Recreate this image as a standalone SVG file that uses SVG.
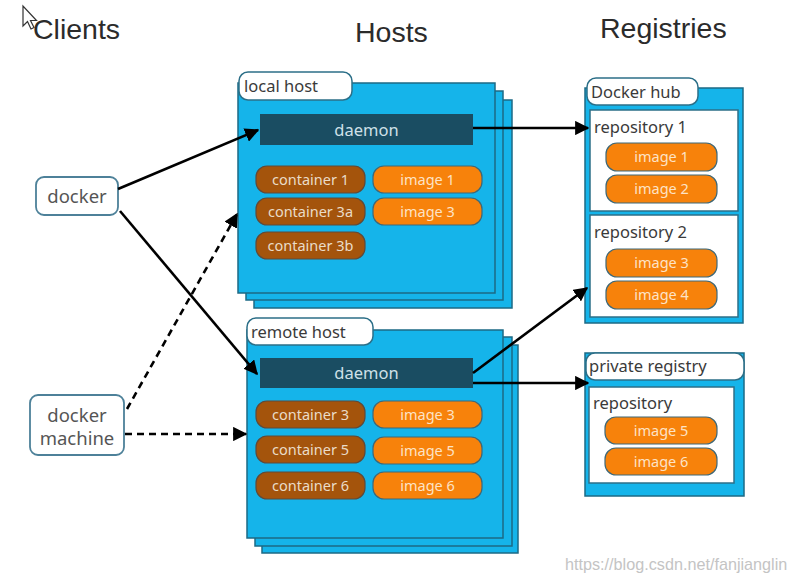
<svg xmlns="http://www.w3.org/2000/svg" width="798" height="582" viewBox="0 0 798 582">
<defs>
<style>
.hdr{font-family:"Liberation Sans",Arial,sans-serif;font-size:28.5px;fill:#2b2b2b}
.card{fill:#15b4ea;stroke:#1d6a85;stroke-width:1.5}
.tab{fill:#fff;stroke:#2c6f88;stroke-width:1.5}
.lbl{font-family:"Noto Sans",Lato,sans-serif;font-size:16.5px;fill:#3a3a3a}
.dmn{fill:#1a4d62}
.dtx{font-family:"Noto Sans",Lato,sans-serif;font-size:16.5px;fill:#cfe0e8;text-anchor:middle}
.ctr{fill:#a4540c;stroke:#5f4a3a;stroke-width:1.2}
.img{fill:#f7820b;stroke:#3e6878;stroke-width:1.2}
.ptx{font-family:"Noto Sans",Lato,sans-serif;font-size:14.5px;text-anchor:middle}
.ctx{fill:#eadcc8}
.itx{fill:#fde3c6}
.repo{fill:#fff;stroke:#2c6f88;stroke-width:1.5}
.cli{fill:#fff;stroke:#4d8199;stroke-width:1.8}
.ctxt{font-family:"Noto Sans",Lato,sans-serif;font-size:18.5px;fill:#555;text-anchor:middle}
.ln{stroke:#000;stroke-width:2.6;fill:none}
.dash{stroke-dasharray:7 5}
</style>
<marker id="ah" viewBox="0 0 10 10" refX="9" refY="5" markerWidth="5.5" markerHeight="5.5" orient="auto" markerUnits="strokeWidth">
<path d="M0,0 L10,5 L0,10 z" fill="#000"/>
</marker>
</defs>
<rect width="798" height="582" fill="#fff"/>

<path d="M23,6 L23,26 L27.5,21.5 L31,29 L34,27.5 L30.5,20.5 L36.5,20.5 Z" fill="#fff" stroke="#333" stroke-width="1.2"/>

<text class="hdr" x="33" y="39">Clients</text>
<text class="hdr" x="355" y="42">Hosts</text>
<text class="hdr" x="600" y="38">Registries</text>

<g id="local-host">
<rect class="card" x="254" y="100" width="258" height="208"/>
<rect class="card" x="246" y="91" width="257" height="209"/>
<rect class="card" x="238" y="83" width="257" height="210"/>
<rect class="tab" x="239" y="72" width="113" height="28" rx="9"/>
<text class="lbl" x="244" y="92">local host</text>
<rect class="dmn" x="260" y="114" width="213" height="31"/>
<text class="dtx" x="366.5" y="136">daemon</text>
<rect class="ctr" x="256" y="166" width="109" height="27" rx="11"/>
<text class="ptx ctx" x="310.5" y="185">container 1</text>
<rect class="ctr" x="256" y="198" width="109" height="27" rx="11"/>
<text class="ptx ctx" x="310.5" y="217">container 3a</text>
<rect class="ctr" x="256" y="232" width="109" height="27" rx="11"/>
<text class="ptx ctx" x="310.5" y="251">container 3b</text>
<rect class="img" x="373" y="166" width="109" height="27" rx="11"/>
<text class="ptx itx" x="427.5" y="185">image 1</text>
<rect class="img" x="373" y="198" width="109" height="27" rx="11"/>
<text class="ptx itx" x="427.5" y="217">image 3</text>
</g>

<g id="remote-host">
<rect class="card" x="262" y="345" width="256" height="208"/>
<rect class="card" x="255" y="337" width="257" height="209"/>
<rect class="card" x="247" y="330" width="256" height="208"/>
<rect class="tab" x="247" y="318" width="126" height="27" rx="9"/>
<text class="lbl" x="251" y="338">remote host</text>
<rect class="dmn" x="260" y="358" width="213" height="30"/>
<text class="dtx" x="366.5" y="379">daemon</text>
<rect class="ctr" x="256" y="401" width="109" height="27" rx="11"/>
<text class="ptx ctx" x="310.5" y="420">container 3</text>
<rect class="ctr" x="256" y="436" width="109" height="27" rx="11"/>
<text class="ptx ctx" x="310.5" y="455">container 5</text>
<rect class="ctr" x="256" y="472" width="109" height="27" rx="11"/>
<text class="ptx ctx" x="310.5" y="491">container 6</text>
<rect class="img" x="373" y="401" width="109" height="27" rx="11"/>
<text class="ptx itx" x="427.5" y="420">image 3</text>
<rect class="img" x="373" y="437" width="109" height="27" rx="11"/>
<text class="ptx itx" x="427.5" y="456">image 5</text>
<rect class="img" x="373" y="472" width="109" height="27" rx="11"/>
<text class="ptx itx" x="427.5" y="491">image 6</text>
</g>

<g id="docker-hub">
<rect class="card" x="585" y="88" width="158" height="235"/>
<rect class="tab" x="587" y="78" width="111" height="27" rx="9"/>
<text class="lbl" x="591" y="98">Docker hub</text>
<rect class="repo" x="590" y="110" width="148" height="101"/>
<text class="lbl" x="594" y="133">repository 1</text>
<rect class="img" x="606" y="143" width="111" height="28" rx="11"/>
<text class="ptx itx" x="661.5" y="162">image 1</text>
<rect class="img" x="606" y="175" width="111" height="28" rx="11"/>
<text class="ptx itx" x="661.5" y="194">image 2</text>
<rect class="repo" x="590" y="215" width="148" height="102"/>
<text class="lbl" x="594" y="238">repository 2</text>
<rect class="img" x="606" y="249" width="111" height="28" rx="11"/>
<text class="ptx itx" x="661.5" y="268">image 3</text>
<rect class="img" x="606" y="281" width="111" height="28" rx="11"/>
<text class="ptx itx" x="661.5" y="300">image 4</text>
</g>

<g id="private-registry">
<rect class="card" x="585" y="353" width="159" height="143"/>
<rect class="tab" x="586" y="353" width="158" height="27" rx="9"/>
<text class="lbl" x="589" y="372">private registry</text>
<rect class="repo" x="589" y="387" width="145" height="96"/>
<text class="lbl" x="593" y="409">repository</text>
<rect class="img" x="605" y="417" width="112" height="27" rx="11"/>
<text class="ptx itx" x="661" y="436">image 5</text>
<rect class="img" x="605" y="448" width="112" height="27" rx="11"/>
<text class="ptx itx" x="661" y="467">image 6</text>
</g>

<g id="docker">
<rect class="cli" x="36" y="177" width="82" height="38" rx="8"/>
<text class="ctxt" x="77" y="203">docker</text>
</g>

<g id="docker-machine">
<rect class="cli" x="30" y="395" width="94" height="60" rx="8"/>
<text class="ctxt" x="77" y="422">docker</text>
<text class="ctxt" x="77" y="445">machine</text>
</g>

<g id="connectors">
<line class="ln" x1="118" y1="189" x2="258" y2="130" marker-end="url(#ah)"/>
<line class="ln" x1="120" y1="211" x2="257" y2="374" marker-end="url(#ah)"/>
<line class="ln dash" x1="127" y1="409" x2="237" y2="214" marker-end="url(#ah)"/>
<line class="ln dash" x1="125" y1="434" x2="246" y2="434" marker-end="url(#ah)"/>
<line class="ln" x1="473" y1="128" x2="588" y2="128" marker-end="url(#ah)"/>
<line class="ln" x1="473" y1="373" x2="587" y2="288" marker-end="url(#ah)"/>
<line class="ln" x1="473" y1="383" x2="588" y2="383" marker-end="url(#ah)"/>
</g>

<text x="565" y="570" font-family="Liberation Sans,Arial,sans-serif" font-size="16.2" fill="#c4c4c4">https://blog.csdn.net/fanjianglin</text>
</svg>
